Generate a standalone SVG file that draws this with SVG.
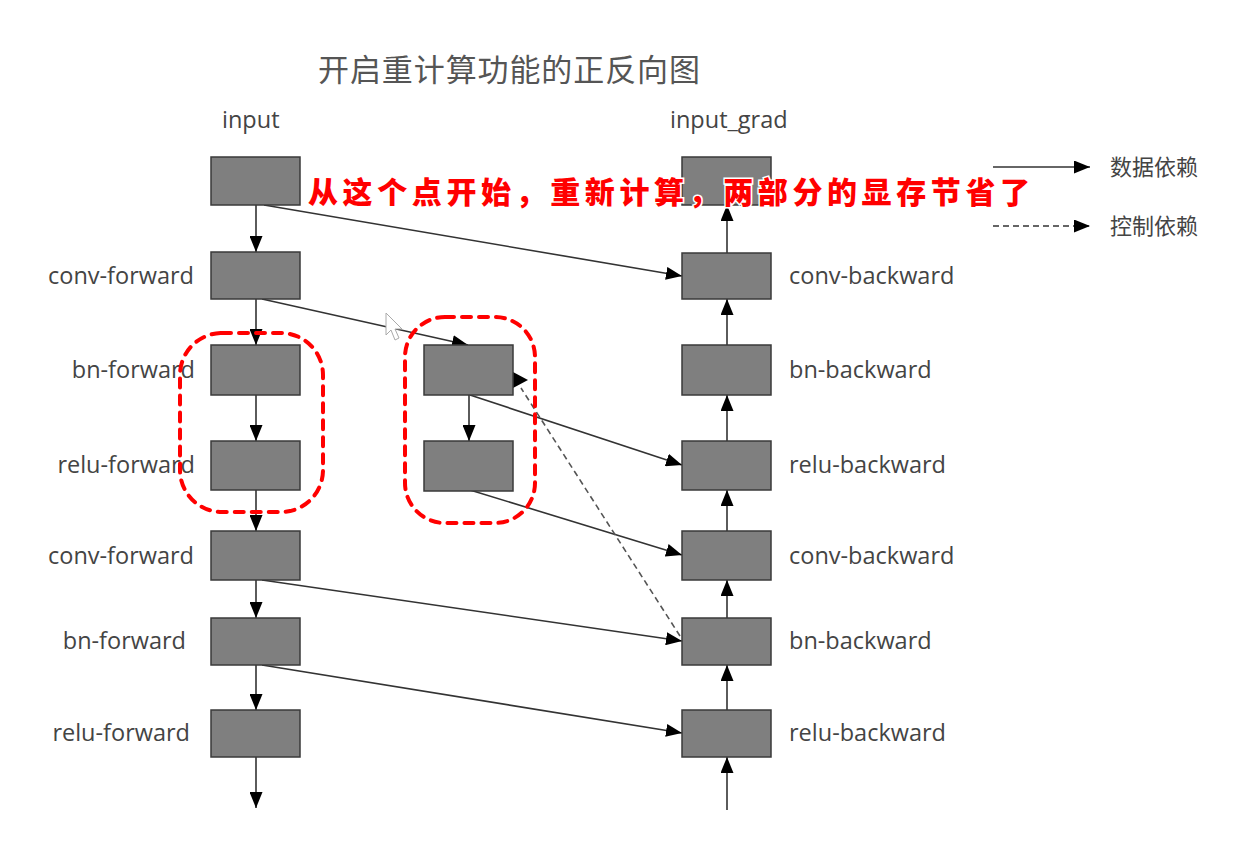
<svg xmlns="http://www.w3.org/2000/svg" width="1258" height="856" viewBox="0 0 1258 856">
<style>
.box{fill:#7f7f7f;stroke:#3a3a3a;stroke-width:1.5}
.lbl{font-family:"Open Sans","Liberation Sans",sans-serif;font-size:23.5px;fill:#444}
.cjk{font-family:"Noto Sans CJK SC","Noto Sans",sans-serif}
.ln{stroke:#333;stroke-width:1.6;fill:none;marker-end:url(#ah)}
.dash{stroke:#555;stroke-width:1.6;fill:none;stroke-dasharray:6 4}
.red{fill:none;stroke:#ff0000;stroke-width:4;stroke-dasharray:9 8;stroke-linecap:round}
</style>
<defs>
<marker id="ah" viewBox="0 0 16 13" refX="16" refY="6.5" markerWidth="16" markerHeight="13" markerUnits="userSpaceOnUse" orient="auto">
<path d="M0,0 L16,6.5 L0,13 z" fill="#000"/>
</marker>
</defs>
<rect width="1258" height="856" fill="#fff"/>
<text class="cjk" x="318" y="81" font-size="31" fill="#555" textLength="382" lengthAdjust="spacing">开启重计算功能的正反向图</text>
<text class="lbl" x="222" y="128">input</text>
<text class="lbl" x="670" y="128">input_grad</text>

<g id="legend">
<line x1="993" y1="167" x2="1090" y2="167" class="ln"/>
<text class="cjk" x="1110" y="175" font-size="22" fill="#444">数据依赖</text>
<line x1="993" y1="226" x2="1090" y2="226" class="ln" stroke-dasharray="6 4"/>
<text class="cjk" x="1110" y="234" font-size="22" fill="#444">控制依赖</text>
</g>

<g id="connectors">
<line x1="256" y1="205" x2="256" y2="252" class="ln"/>
<line x1="256" y1="299" x2="256" y2="345" class="ln"/>
<line x1="256" y1="395" x2="256" y2="441" class="ln"/>
<line x1="256" y1="490" x2="256" y2="531" class="ln"/>
<line x1="256" y1="580" x2="256" y2="618" class="ln"/>
<line x1="256" y1="665" x2="256" y2="710" class="ln"/>
<line x1="256" y1="757" x2="256" y2="808" class="ln"/>
<line x1="469" y1="395" x2="469" y2="441" class="ln"/>
<line x1="727" y1="253" x2="727" y2="205" class="ln"/>
<line x1="727" y1="345" x2="727" y2="299" class="ln"/>
<line x1="727" y1="441" x2="727" y2="395" class="ln"/>
<line x1="727" y1="531" x2="727" y2="490" class="ln"/>
<line x1="727" y1="618" x2="727" y2="580" class="ln"/>
<line x1="727" y1="710" x2="727" y2="665" class="ln"/>
<line x1="727" y1="810" x2="727" y2="757" class="ln"/>
<line x1="264" y1="205" x2="682" y2="276" class="ln"/>
<line x1="262" y1="299" x2="468" y2="345" class="ln"/>
<line x1="470" y1="395" x2="682" y2="465" class="ln"/>
<line x1="470" y1="490" x2="682" y2="555" class="ln"/>
<line x1="262" y1="580" x2="682" y2="641" class="ln"/>
<line x1="262" y1="665" x2="682" y2="733" class="ln"/>
<line x1="680" y1="636" x2="521" y2="388" class="dash"/>
<polygon points="513,372 528,380 513,388" fill="#000"/>
</g>

<g id="input"><rect class="box" x="211" y="157" width="89" height="48"/></g>
<g id="conv-forward-1"><rect class="box" x="211" y="252" width="89" height="47"/><text class="lbl" x="194" y="284" text-anchor="end">conv-forward</text></g>
<g id="bn-forward-1"><rect class="box" x="211" y="345" width="89" height="50"/><text class="lbl" x="195" y="378" text-anchor="end">bn-forward</text></g>
<g id="relu-forward-1"><rect class="box" x="211" y="441" width="89" height="49"/><text class="lbl" x="195" y="473" text-anchor="end">relu-forward</text></g>
<g id="conv-forward-2"><rect class="box" x="211" y="531" width="89" height="49"/><text class="lbl" x="194" y="564" text-anchor="end">conv-forward</text></g>
<g id="bn-forward-2"><rect class="box" x="211" y="618" width="89" height="47"/><text class="lbl" x="186" y="649" text-anchor="end">bn-forward</text></g>
<g id="relu-forward-2"><rect class="box" x="211" y="710" width="89" height="47"/><text class="lbl" x="190" y="741" text-anchor="end">relu-forward</text></g>

<g id="recompute-bn"><rect class="box" x="424" y="345" width="89" height="50"/></g>
<g id="recompute-relu"><rect class="box" x="424" y="441" width="89" height="50"/></g>

<g id="input-grad"><rect class="box" x="682" y="157" width="89" height="48"/></g>
<g id="conv-backward-1"><rect class="box" x="682" y="253" width="89" height="46"/><text class="lbl" x="789" y="284">conv-backward</text></g>
<g id="bn-backward-1"><rect class="box" x="682" y="345" width="89" height="50"/><text class="lbl" x="789" y="378">bn-backward</text></g>
<g id="relu-backward-1"><rect class="box" x="682" y="441" width="89" height="49"/><text class="lbl" x="789" y="473">relu-backward</text></g>
<g id="conv-backward-2"><rect class="box" x="682" y="531" width="89" height="49"/><text class="lbl" x="789" y="564">conv-backward</text></g>
<g id="bn-backward-2"><rect class="box" x="682" y="618" width="89" height="47"/><text class="lbl" x="789" y="649">bn-backward</text></g>
<g id="relu-backward-2"><rect class="box" x="682" y="710" width="89" height="47"/><text class="lbl" x="789" y="741">relu-backward</text></g>

<g id="highlights">
<rect class="red" x="180" y="333" width="143" height="179" rx="42"/>
<rect class="red" x="405" y="317" width="130" height="206" rx="40"/>
</g>

<polygon points="386,313 386,335 391,330 395,340 399,338 395,329 402,329" fill="#fff" stroke="#aaa" stroke-width="1"/>

<text class="cjk" x="308" y="203" font-size="30" font-weight="900" fill="#ff0000" stroke="#fff" stroke-width="3" paint-order="stroke" textLength="722" lengthAdjust="spacing">从这个点开始，重新计算，两部分的显存节省了</text>
</svg>
